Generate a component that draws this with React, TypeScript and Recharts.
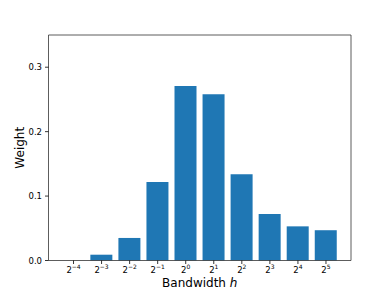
import { BarChart, Bar, XAxis, YAxis } from "recharts";

const exponents = ["-4", "-3", "-2", "-1", "0", "1", "2", "3", "4", "5"];
const weights = [0, 0.009, 0.035, 0.122, 0.271, 0.258, 0.134, 0.072, 0.053, 0.047];
const yTicks = [0, 0.1, 0.2, 0.3];

const data = exponents.map((e, i) => ({ exp: e, weight: weights[i] }));

const FONT = "DejaVu Sans";
const spine = { stroke: "#333", strokeWidth: 0.8 };

function PowerTick({ x, y, payload }: any) {
  const exp = String(payload.value).replace("-", "\u2212");
  return (
    <text x={x} y={y + 7} textAnchor="middle" fontSize={8.5} fontFamily={FONT} fill="#000">
      2
      <tspan dy={-4} fontSize={6}>
        {exp}
      </tspan>
    </text>
  );
}

export default function App() {
  return (
    <div style={{ width: 390, height: 293, background: "#fff" }}>
      <style>{"body{margin:0}"}</style>
      <BarChart
        width={390}
        height={293}
        data={data}
        margin={{ top: 34, right: 38, left: 0, bottom: 0 }}
        barCategoryGap="10%"
      >
        <XAxis
          dataKey="exp"
          height={32.5}
          padding={{ left: 11, right: 11 }}
          tick={<PowerTick />}
          tickSize={3.5}
          axisLine={spine}
          tickLine={{ stroke: "#000", strokeWidth: 0.8 }}
          interval={0}
          label={{
            content: ({ viewBox }: any) => (
              <text
                x={viewBox.x + viewBox.width / 2}
                y={287}
                textAnchor="middle"
                fontSize={12}
                fontFamily={FONT}
                fill="#000"
              >
                Bandwidth <tspan fontStyle="italic">h</tspan>
              </text>
            ),
          }}
        />
        <XAxis
          xAxisId="top"
          dataKey="exp"
          orientation="top"
          height={1}
          tick={false}
          tickLine={false}
          axisLine={spine}
        />
        <YAxis
          width={48.5}
          domain={[0, 0.35]}
          ticks={yTicks}
          tickFormatter={(v: number) => v.toFixed(1)}
          tick={{ fontSize: 8.5, fontFamily: FONT, fill: "#000" }}
          tickSize={3.5}
          tickMargin={3}
          axisLine={spine}
          tickLine={{ stroke: "#000", strokeWidth: 0.8 }}
          label={{
            content: ({ viewBox }: any) => {
              const cy = viewBox.y + viewBox.height / 2;
              return (
                <text
                  x={24}
                  y={cy}
                  transform={`rotate(-90, 24, ${cy})`}
                  textAnchor="middle"
                  fontSize={12}
                  fontFamily={FONT}
                  fill="#000"
                >
                  Weight
                </text>
              );
            },
          }}
        />
        <YAxis
          yAxisId="right"
          orientation="right"
          domain={[0, 0.35]}
          width={1}
          tick={false}
          tickLine={false}
          axisLine={spine}
        />
        <Bar dataKey="weight" fill="#1f77b4" isAnimationActive={false} />
        <Bar dataKey="weight" xAxisId="top" yAxisId="right" fill="none" isAnimationActive={false} legendType="none" />
      </BarChart>
    </div>
  );
}
